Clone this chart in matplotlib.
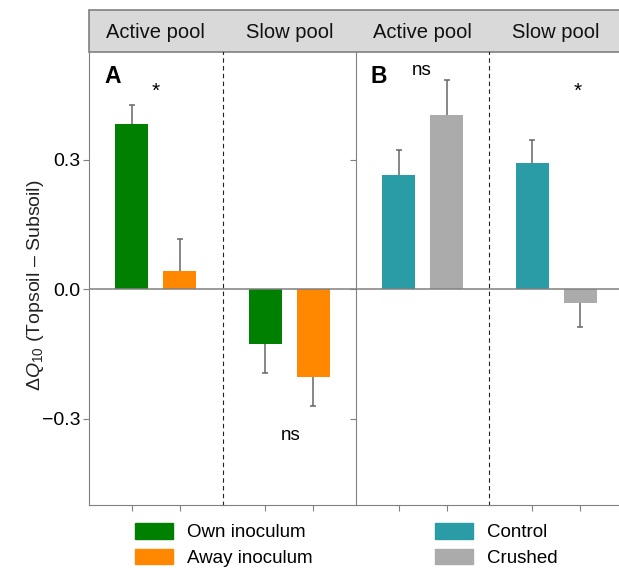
"""
Delta Q10 (topsoil - subsoil) bar chart, two panels with pool facets.
"""

import matplotlib
matplotlib.use('Agg')
import matplotlib.pyplot as plt
from matplotlib.patches import Patch, Rectangle

plt.rcParams['font.family'] = ['Liberation Sans', 'DejaVu Sans']
plt.rcParams['mathtext.fontset'] = 'custom'
plt.rcParams['mathtext.rm'] = 'Liberation Sans'
plt.rcParams['mathtext.it'] = 'Liberation Sans:italic'

# 数据
pools = ['Active pool', 'Slow pool']

inoc_labels = ['Own inoculum', 'Away inoculum']
own = [0.383, -0.126]
own_err = [0.043, 0.068]
away = [0.042, -0.204]
away_err = [0.075, 0.067]
sig_a = ['*', 'ns']

trt_labels = ['Control', 'Crushed']
control = [0.266, 0.292]
control_err = [0.058, 0.054]
crushed = [0.405, -0.031]
crushed_err = [0.079, 0.057]
sig_b = ['ns', '*']

yticks = [-0.3, 0.0, 0.3]
ytick_labels = ['\u22120.3', '0.0', '0.3']

colors_a = ['#008000', '#FF8800']
colors_b = ['#2A9CA5', '#ABABAB']

W, H = 619, 568
fig = plt.figure(figsize=(W / 100, H / 100), dpi=100)

spine_c = '#808080'
ylim = (-0.5, 0.55)


def px_axes(x0, x1, y0, y1):
    """按像素位置添加坐标轴（y 从上往下）。"""
    return fig.add_axes([x0 / W, 1 - y1 / H, (x1 - x0) / W, (y1 - y0) / H])


# 条带标题背景（两个面板连在一起）
strip = Rectangle((89 / W, 1 - 52 / H), (625 - 89) / W, 42 / H,
                  transform=fig.transFigure, facecolor='#D9D9D9',
                  edgecolor=spine_c, lw=1.2, zorder=-1)
fig.add_artist(strip)


def draw_panel(x0, x1, series, errs, colors, sigs, sig_pos, letter, show_y):
    ax = px_axes(x0, x1, 52, 505)
    ax.axis('off')
    for i, pool in enumerate(pools):
        ax.text(0.25 + 0.5 * i, 1 + 19 / 453, pool, transform=ax.transAxes,
                ha='center', va='center', fontsize=14.5, color='#111111',
                clip_on=False)
    ax.text(0.087, 0.945, letter, transform=ax.transAxes, fontsize=16.5,
            fontweight='bold', ha='center', va='center')

    for i in range(len(pools)):
        sub = px_axes(x0 + i * (x1 - x0) / 2, x0 + (i + 1) * (x1 - x0) / 2, 52, 505)
        sub.set_xlim(0.1, 2.9)
        sub.set_ylim(*ylim)
        sub.patch.set_alpha(0)
        pos = [1, 2]
        for j in range(2):
            v = series[j][i]
            e = errs[j][i]
            sub.bar(pos[j], v, width=0.69, color=colors[j], zorder=2)
            yerr = [[0], [e]] if v > 0 else [[e], [0]]
            _, caps, _ = sub.errorbar(pos[j], v, yerr=yerr, fmt='none',
                                      ecolor='#666666', elinewidth=1.1,
                                      capsize=2, capthick=1.1, zorder=1)
            caps[0 if v > 0 else 1].set_visible(False)
        sub.axhline(0, color=spine_c, lw=1.1, zorder=3)
        sub.text(sig_pos[i][0], sig_pos[i][1], sigs[i], ha='center', va='center',
                 fontsize=13.5 if sigs[i] == 'ns' else 15)
        for s in ['top', 'right']:
            sub.spines[s].set_visible(False)
        sub.spines['bottom'].set_color(spine_c)
        sub.spines['left'].set_color(spine_c)
        if i == 1:
            sub.spines['left'].set_linestyle((0, (3, 4)))
            sub.spines['left'].set_color('#222222')
            sub.tick_params(axis='y', left=False, labelleft=False)
        else:
            sub.set_yticks(yticks)
            sub.tick_params(axis='y', length=4, color=spine_c, labelsize=14,
                            labelleft=show_y, pad=2)
            if show_y:
                sub.set_yticklabels(ytick_labels)
        sub.set_xticks(pos)
        sub.tick_params(axis='x', length=4, color=spine_c, labelbottom=False)
    return ax


draw_panel(89, 356, [own, away], [own_err, away_err], colors_a, sig_a,
           [(1.5, 0.46), (1.54, -0.34)], 'A', True)
draw_panel(356, 623, [control, crushed], [control_err, crushed_err], colors_b,
           sig_b, [(1.48, 0.508), (1.95, 0.46)], 'B', False)

fig.text(36 / W, 1 - 285 / H, '$\\Delta\\mathit{Q}_{10}$ (Topsoil \u2013 Subsoil)',
         rotation=90, ha='center', va='center', fontsize=14, color='#222222')

leg_kw = dict(frameon=False, fontsize=13.5, handlelength=2.0, handleheight=0.9,
              handletextpad=0.75, labelspacing=0.4, borderpad=0,
              borderaxespad=0, loc='upper left')
fig.legend([Patch(color=c) for c in colors_a], inoc_labels,
           bbox_to_anchor=(135 / W, 1 - 523 / H), **leg_kw)
fig.legend([Patch(color=c) for c in colors_b], trt_labels,
           bbox_to_anchor=(435 / W, 1 - 523 / H), **leg_kw)

fig.savefig('out.png', dpi=100)
